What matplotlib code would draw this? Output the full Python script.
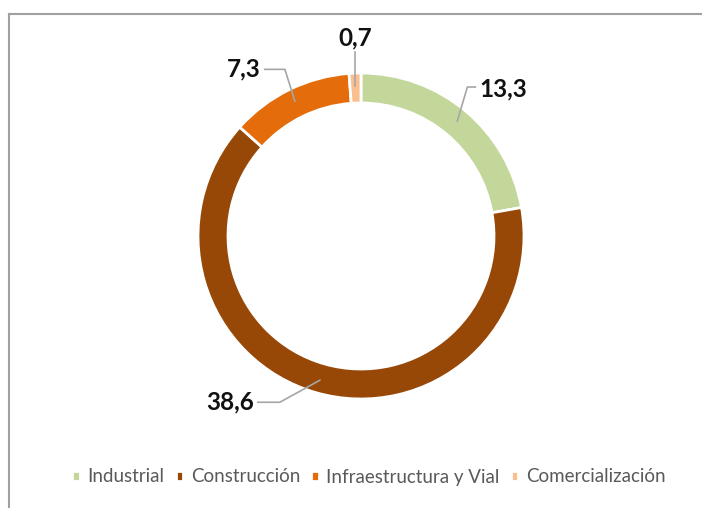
import matplotlib
matplotlib.use("Agg")
import matplotlib.pyplot as plt
import numpy as np

categories = ['Industrial', 'Construcción', 'Infraestructura y Vial', 'Comercialización']
values = [13.3, 38.6, 7.3, 0.7]
labels = ['13,3', '38,6', '7,3', '0,7']
colors = ['#C4D79B', '#974706', '#E46C0A', '#FABF8F']

plt.rcParams['font.family'] = ['Lato', 'DejaVu Sans']

W, H = 702, 508
fig = plt.figure(figsize=(W / 100, H / 100), dpi=100)
ax = fig.add_axes([0, 0, 1, 1])

cx, cy, R = 361, H - 236, 163
wedges, _ = ax.pie(values, colors=colors, startangle=90, counterclock=False,
                   center=(cx, cy), radius=R, frame=True,
                   wedgeprops=dict(width=30, edgecolor='white', linewidth=2))
ax.set_xlim(0, W)
ax.set_ylim(0, H)
ax.axis('off')

# leader offsets (elbow, end of horizontal) relative to anchor on the ring, in pixels
leaders = [
    dict(elbow=(10, 34), end=(18, 34), ha='left'),
    dict(elbow=(-40, -22), end=(-62, -22), ha='right'),
    dict(elbow=(-10, 32), end=(-30, 32), ha='right'),
    dict(elbow=(0, 34), end=(0, 34), ha='center'),
]

cum = np.cumsum([0] + values)
total = sum(values)
for i, w in enumerate(wedges):
    mid = 90 - (cum[i] + values[i] / 2) / total * 360
    a = np.deg2rad(mid)
    r = R - 13
    x0, y0 = cx + r * np.cos(a), cy + r * np.sin(a)
    ld = leaders[i]
    ex, ey = x0 + ld['elbow'][0], y0 + ld['elbow'][1]
    tx, ty = x0 + ld['end'][0], y0 + ld['end'][1]
    ax.plot([x0, ex, tx], [y0, ey, ty], color='#A6A6A6', lw=1.2, zorder=3)
    kw = dict(fontsize=17.5, fontweight='bold', color='#111111')
    if ld['ha'] == 'left':
        ax.text(tx + 4, ty - 2, labels[i], ha='left', va='center', **kw)
    elif ld['ha'] == 'right':
        ax.text(tx - 4, ty, labels[i], ha='right', va='center', **kw)
    else:
        ax.text(tx, ty + 3, labels[i], ha='center', va='bottom', **kw)

# chart border (top and left edges visible)
ax.plot([9, W], [H - 14, H - 14], color='#A0A0A0', lw=1.5, clip_on=False)
ax.plot([9, 9], [H - 14, 0], color='#A0A0A0', lw=1.5, clip_on=False)

leg = ax.legend(wedges, categories, loc='center', bbox_to_anchor=(369 / W, 1 - 477 / H),
                ncol=4, frameon=False, fontsize=13.5, handlelength=0.4, handleheight=0.4,
                handletextpad=0.4, columnspacing=0.6, labelcolor='#595959')

fig.savefig('out.png', dpi=100)
